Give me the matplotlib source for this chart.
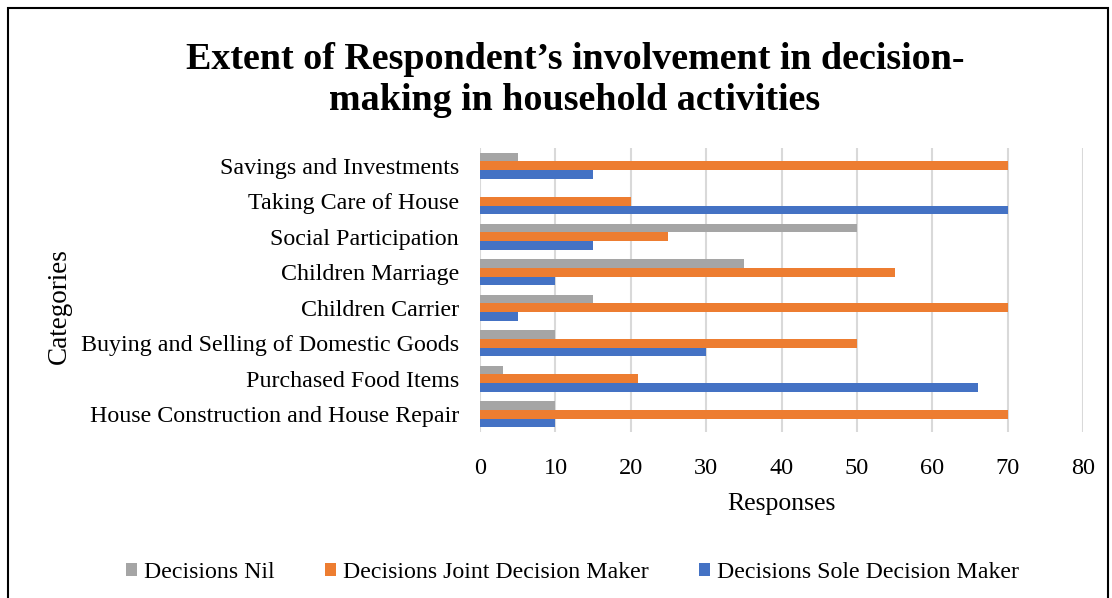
import matplotlib.pyplot as plt
import numpy as np
from matplotlib.patches import Rectangle

categories = ['House Construction and House Repair', 'Purchased Food Items',
              'Buying and Selling of Domestic Goods', 'Children Carrier',
              'Children Marriage', 'Social Participation',
              'Taking Care of House', 'Savings and Investments']
nil = [10, 3, 10, 15, 35, 50, 0, 5]
joint = [70, 21, 50, 70, 55, 25, 20, 70]
sole = [10, 66, 30, 5, 10, 15, 70, 15]
xticks = [0, 10, 20, 30, 40, 50, 60, 70, 80]

plt.rcParams['font.family'] = ['Liberation Serif', 'DejaVu Serif']

fig = plt.figure(figsize=(11.12, 5.98), dpi=100)
ax = fig.add_axes([0.4317, 0.2776, 0.5423, 0.4749])

y = np.arange(len(categories))
h = 0.245
ax.barh(y + h, nil, height=h, color='#A5A5A5', label='Decisions Nil', zorder=3)
ax.barh(y, joint, height=h, color='#ED7D31', label='Decisions Joint Decision Maker', zorder=3)
ax.barh(y - h, sole, height=h, color='#4472C4', label='Decisions Sole Decision Maker', zorder=3)

ax.set_xlim(0, 80)
ax.set_ylim(-0.5, len(categories) - 0.5)
ax.set_xticks(xticks)
ax.set_yticks(y)
ax.set_yticklabels(categories)
ax.tick_params(axis='y', length=0, labelsize=17.3, pad=15)
ax.tick_params(axis='x', length=0, labelsize=17.5, pad=19)
ax.grid(axis='x', color='#D9D9D9', linewidth=1.5, zorder=0)
for s in ax.spines.values():
    s.set_visible(False)

ax.set_xlabel('Responses', fontsize=18.5, labelpad=10)
fig.text(0.053, 0.488, 'Categories', rotation=90, fontsize=19.5, ha='center', va='center')

fig.text(0.517, 0.866, 'Extent of Respondent\u2019s involvement in decision-\nmaking in household activities',
         fontsize=27.4, fontweight='bold', ha='center', va='center', linespacing=1.22)

fig.legend(loc='center', bbox_to_anchor=(0.515, 0.043), ncol=3, frameon=False,
           fontsize=17.2, handlelength=0.45, handleheight=0.45, handletextpad=0.3,
           columnspacing=2.1)

fig.patches.append(Rectangle((0.007, -0.05), 0.989, 1.037, transform=fig.transFigure,
                             fill=False, edgecolor='black', linewidth=1.5))

fig.savefig('out.png', dpi=100)
